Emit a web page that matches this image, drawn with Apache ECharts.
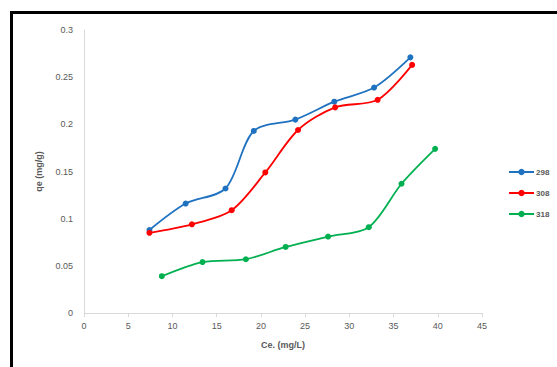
<!DOCTYPE html>
<html>
<head>
<meta charset="utf-8">
<script src="https://cdn.jsdelivr.net/npm/echarts@6/dist/echarts.min.js"></script>
<style>
  html, body { margin: 0; padding: 0; background: #fff; overflow: hidden; }
  #frame { position: absolute; left: 10px; top: 11px; width: 600px; height: 400px; border: 3px solid #000; box-sizing: border-box; }
  #chart { position: absolute; left: 0; top: 0; width: 557px; height: 367px; }
</style>
</head>
<body>
<div id="frame"></div>
<div id="chart"></div>
<script>
(function() {
  var seriesNames = ['298', '308', '318'];
  var colors = ['#1f72c0', '#ff0000', '#00b050'];

  var ce298 = [7.4, 11.5, 16.0, 19.2, 23.9, 28.3, 32.8, 36.9];
  var qe298 = [0.088, 0.116, 0.132, 0.193, 0.205, 0.224, 0.239, 0.271];

  var ce308 = [7.4, 12.2, 16.7, 20.5, 24.2, 28.4, 33.2, 37.1];
  var qe308 = [0.085, 0.094, 0.109, 0.149, 0.194, 0.218, 0.226, 0.263];

  var ce318 = [8.8, 13.4, 18.3, 22.8, 27.6, 32.2, 35.9, 39.7];
  var qe318 = [0.039, 0.054, 0.057, 0.070, 0.081, 0.091, 0.137, 0.174];

  var xs = [ce298, ce308, ce318];
  var ys = [qe298, qe308, qe318];

  function pairs(a, b) {
    var out = [];
    for (var i = 0; i < a.length; i++) out.push([a[i], b[i]]);
    return out;
  }

  var textColor = '#595959';
  var font = 'Liberation Sans';

  var chart = echarts.init(document.getElementById('chart'), null, { renderer: 'svg' });
  chart.setOption({
    animation: false,
    grid: { left: 84, right: 75, top: 30, bottom: 54 },
    legend: {
      orient: 'vertical',
      left: 503,
      top: 163,
      itemWidth: 25,
      itemHeight: 8,
      itemGap: 13,
      textStyle: { color: textColor, fontSize: 8, fontFamily: font, fontWeight: 'bold', padding: [0, 0, 0, -3] },
      data: seriesNames
    },
    xAxis: {
      type: 'value',
      min: 0, max: 45, interval: 5,
      name: 'Ce. (mg/L)',
      nameLocation: 'middle',
      nameGap: 27,
      nameTextStyle: { color: textColor, fontSize: 9, fontFamily: font, fontWeight: 'bold' },
      axisLine: { lineStyle: { color: '#d9d9d9' } },
      axisTick: { show: true, length: 4, lineStyle: { color: '#d9d9d9' } },
      axisLabel: { color: textColor, fontSize: 9, fontFamily: font, margin: 8 },
      splitLine: { show: false }
    },
    yAxis: {
      type: 'value',
      min: 0, max: 0.3, interval: 0.05,
      name: 'qe (mg/g)',
      nameLocation: 'middle',
      nameGap: 41,
      nameTextStyle: { color: textColor, fontSize: 9, fontFamily: font, fontWeight: 'bold' },
      axisLine: { show: true, lineStyle: { color: '#d9d9d9' } },
      axisTick: { show: false },
      axisLabel: { color: textColor, fontSize: 9, fontFamily: font, margin: 11 },
      splitLine: { show: false }
    },
    series: seriesNames.map(function(name, i) {
      return {
        name: name,
        type: 'line',
        smooth: 0.3,
        symbol: 'circle',
        symbolSize: 6,
        lineStyle: { width: 1.8, color: colors[i] },
        itemStyle: { color: colors[i] },
        data: pairs(xs[i], ys[i])
      };
    })
  });
})();
</script>
</body>
</html>
